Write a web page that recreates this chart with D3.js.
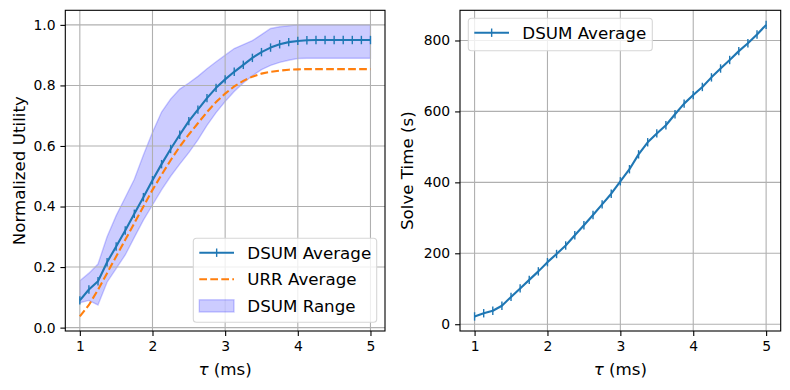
<!DOCTYPE html>
<html>
<head>
<meta charset="utf-8">
<script src="https://cdn.jsdelivr.net/npm/d3@7"></script>
<style>
  body { margin: 0; background: #fff; }
  svg { font-family: "DejaVu Sans", sans-serif; }
</style>
</head>
<body>
<div id="visDiv"></div>
<script>
// DATA
var tau = [1.0, 1.125, 1.25, 1.375, 1.5, 1.625, 1.75, 1.875, 2.0, 2.125, 2.25, 2.375, 2.5, 2.625, 2.75, 2.875,
           3.0, 3.125, 3.25, 3.375, 3.5, 3.625, 3.75, 3.875, 4.0, 4.125, 4.25, 4.375, 4.5, 4.625, 4.75, 4.875, 5.0];

var dsumAvg = [0.090, 0.126, 0.153, 0.216, 0.268, 0.321, 0.376, 0.431, 0.487, 0.540, 0.590, 0.637, 0.682, 0.720, 0.758, 0.792,
               0.820, 0.845, 0.868, 0.891, 0.910, 0.925, 0.936, 0.943, 0.947, 0.949, 0.950, 0.950, 0.950, 0.950, 0.950, 0.950, 0.950];

var urrAvg = [0.037, 0.075, 0.125, 0.180, 0.235, 0.290, 0.345, 0.400, 0.455, 0.505, 0.553, 0.598, 0.638, 0.675, 0.712, 0.745,
              0.773, 0.797, 0.815, 0.829, 0.839, 0.845, 0.849, 0.852, 0.853, 0.854, 0.854, 0.854, 0.854, 0.854, 0.854, 0.854, 0.854];

var dsumLow = [0.082, 0.090, 0.075, 0.150, 0.195, 0.240, 0.298, 0.355, 0.405, 0.455, 0.500, 0.540, 0.578, 0.620, 0.668, 0.710,
               0.747, 0.780, 0.808, 0.832, 0.852, 0.866, 0.876, 0.883, 0.889, 0.890, 0.890, 0.890, 0.890, 0.890, 0.890, 0.890, 0.890];

var dsumHigh = [0.155, 0.180, 0.210, 0.300, 0.370, 0.430, 0.490, 0.570, 0.645, 0.712, 0.755, 0.788, 0.808, 0.830, 0.855, 0.878,
                0.900, 0.922, 0.935, 0.948, 0.968, 0.988, 0.994, 0.997, 1.000, 1.000, 1.000, 1.000, 1.000, 1.000, 1.000, 1.000, 1.000];

var solveTime = [22, 31, 38, 52, 77, 101, 125, 149, 175, 198, 222, 251, 279, 308, 338, 368,
                 403, 437, 479, 513, 538, 561, 592, 622, 646, 669, 696, 721, 745, 770, 792, 817, 844];

var xTicks = [1, 2, 3, 4, 5];
var utilTicks = [0.0, 0.2, 0.4, 0.6, 0.8, 1.0];
var timeTicks = [0, 200, 400, 600, 800];

// DEFS
var W = 790, H = 390,
    top_ = 10.3, bottom_ = 331,
    leftBox = [65.3, 385],
    rightBox = [460, 780.7],
    blue = "#1f77b4", orange = "#ff7f0e",
    tickFont = 13.9, labelFont = 16.7;

var svg = d3.select("#visDiv").append("svg")
    .attr("width", W).attr("height", H);

// matplotlib-like 5% margins
function padded(ext) {
  var d = (ext[1] - ext[0]) * 0.05;
  return [ext[0] - d, ext[1] + d];
}

var xExt = padded(d3.extent(tau));
var utilExt = padded(d3.extent(dsumAvg.concat(urrAvg, dsumLow, dsumHigh)));
var timeExt = padded(d3.extent(solveTime));

function frame(box, yDomain, yTickVals, yFmt) {
  var x = d3.scaleLinear().domain(xExt).range(box);
  var y = d3.scaleLinear().domain(yDomain).range([bottom_, top_]);
  var g = svg.append("g");

  g.gridLayer = g.append("g");
  g.dataLayer = g.append("g");

  return {x: x, y: y, g: g, box: box, yTickVals: yTickVals, yFmt: yFmt};
}

function drawGrid(p) {
  var gl = p.g.append("g").attr("stroke", "#b0b0b0").attr("stroke-width", 1.1);
  xTicks.forEach(function (t) {
    gl.append("line").attr("x1", p.x(t)).attr("x2", p.x(t)).attr("y1", top_).attr("y2", bottom_);
  });
  p.yTickVals.forEach(function (t) {
    gl.append("line").attr("x1", p.box[0]).attr("x2", p.box[1]).attr("y1", p.y(t)).attr("y2", p.y(t));
  });
}

function drawAxes(p) {
  var ax = p.g.append("g")
      .attr("transform", "translate(0," + bottom_ + ")")
      .call(d3.axisBottom(p.x).tickValues(xTicks).tickFormat(d3.format("d")).tickSize(4.9).tickPadding(4.9));
  var ay = p.g.append("g")
      .attr("transform", "translate(" + p.box[0] + ",0)")
      .call(d3.axisLeft(p.y).tickValues(p.yTickVals).tickFormat(p.yFmt).tickSize(4.9).tickPadding(4.9));
  [ax, ay].forEach(function (a) {
    a.select(".domain").remove();
    a.selectAll(".tick line").attr("stroke", "#000").attr("stroke-width", 1.1);
    a.selectAll(".tick text").attr("fill", "#000")
      .style("font-family", "DejaVu Sans").style("font-size", tickFont + "px");
  });
  p.g.append("rect")
      .attr("x", p.box[0]).attr("y", top_)
      .attr("width", p.box[1] - p.box[0]).attr("height", bottom_ - top_)
      .attr("fill", "none").attr("stroke", "#000").attr("stroke-width", 1.1);

  var xl = p.g.append("text")
      .attr("x", (p.box[0] + p.box[1]) / 2).attr("y", 375)
      .attr("text-anchor", "middle").style("font-size", labelFont + "px");
  xl.append("tspan").attr("font-style", "italic").text("τ");
  xl.append("tspan").text(" (ms)");
}

function drawMarkers(p, vals, color) {
  p.g.append("g").selectAll("line").data(vals).join("line")
      .attr("x1", function (d, i) { return p.x(tau[i]); })
      .attr("x2", function (d, i) { return p.x(tau[i]); })
      .attr("y1", function (d) { return p.y(d) - 4.2; })
      .attr("y2", function (d) { return p.y(d) + 4.2; })
      .attr("stroke", color).attr("stroke-width", 1.4);
}

function legend(g, x0, y0, w, h, items) {
  var lg = g.append("g");
  lg.append("rect").attr("x", x0).attr("y", y0).attr("width", w).attr("height", h)
      .attr("rx", 3.3).attr("ry", 3.3)
      .attr("fill", "#fff").attr("fill-opacity", 0.8)
      .attr("stroke", "#d6d6d6").attr("stroke-width", 1.1);
  items.forEach(function (it, i) {
    var cy = y0 + 14.4 + i * 26.6, hx = x0 + 6;
    if (it.type === "line") {
      lg.append("line").attr("x1", hx).attr("x2", hx + 34.7).attr("y1", cy).attr("y2", cy)
          .attr("stroke", it.color).attr("stroke-width", 2.1)
          .attr("stroke-dasharray", it.dash || null);
      if (it.marker) {
        lg.append("line").attr("x1", hx + 17.35).attr("x2", hx + 17.35)
            .attr("y1", cy - 4.2).attr("y2", cy + 4.2)
            .attr("stroke", it.color).attr("stroke-width", 1.4);
      }
    } else {
      lg.append("rect").attr("x", hx).attr("y", cy - 6.1).attr("width", 34.7).attr("height", 12.2)
          .attr("fill", "#0000ff").attr("fill-opacity", 0.2)
          .attr("stroke", "#0000ff").attr("stroke-opacity", 0.2).attr("stroke-width", 1.4);
    }
    lg.append("text").attr("x", hx + 48).attr("y", cy).attr("dy", "0.36em")
        .style("font-size", labelFont + "px").text(it.label);
  });
}

// LEFT: normalized utility
var L = frame(leftBox, utilExt, utilTicks, d3.format(".1f"));

L.g.append("path")
    .datum(tau)
    .attr("fill", "#0000ff").attr("fill-opacity", 0.2)
    .attr("stroke", "#0000ff").attr("stroke-opacity", 0.2).attr("stroke-width", 1.4)
    .attr("d", d3.area()
        .x(function (d) { return L.x(d); })
        .y0(function (d, i) { return L.y(dsumLow[i]); })
        .y1(function (d, i) { return L.y(dsumHigh[i]); }));

drawGrid(L);

L.g.append("path")
    .datum(dsumAvg)
    .attr("fill", "none").attr("stroke", blue).attr("stroke-width", 2.1)
    .attr("stroke-linejoin", "round")
    .attr("d", d3.line().x(function (d, i) { return L.x(tau[i]); }).y(function (d) { return L.y(d); }));
drawMarkers(L, dsumAvg, blue);

L.g.append("path")
    .datum(urrAvg)
    .attr("fill", "none").attr("stroke", orange).attr("stroke-width", 2.1)
    .attr("stroke-dasharray", "7.7,3.3")
    .attr("d", d3.line().x(function (d, i) { return L.x(tau[i]); }).y(function (d) { return L.y(d); }));

drawAxes(L);

svg.append("text")
    .attr("transform", "translate(25," + ((top_ + bottom_) / 2) + ") rotate(-90)")
    .attr("text-anchor", "middle").style("font-size", labelFont + "px")
    .text("Normalized Utility");

legend(L.g, 193.3, 238.3, 183.4, 84, [
  {type: "line", color: blue, marker: true, label: "DSUM Average"},
  {type: "line", color: orange, dash: "7.7,3.3", label: "URR Average"},
  {type: "fill", label: "DSUM Range"}
]);

// RIGHT: solve time
var R = frame(rightBox, timeExt, timeTicks, d3.format("d"));
drawGrid(R);

R.g.append("path")
    .datum(solveTime)
    .attr("fill", "none").attr("stroke", blue).attr("stroke-width", 2.1)
    .attr("stroke-linejoin", "round")
    .attr("d", d3.line().x(function (d, i) { return R.x(tau[i]); }).y(function (d) { return R.y(d); }));
drawMarkers(R, solveTime, blue);

drawAxes(R);

svg.append("text")
    .attr("transform", "translate(413," + ((top_ + bottom_) / 2) + ") rotate(-90)")
    .attr("text-anchor", "middle").style("font-size", labelFont + "px")
    .text("Solve Time (s)");

legend(R.g, 468.3, 18.3, 184, 32.4, [
  {type: "line", color: blue, marker: true, label: "DSUM Average"}
]);
</script>
</body>
</html>
